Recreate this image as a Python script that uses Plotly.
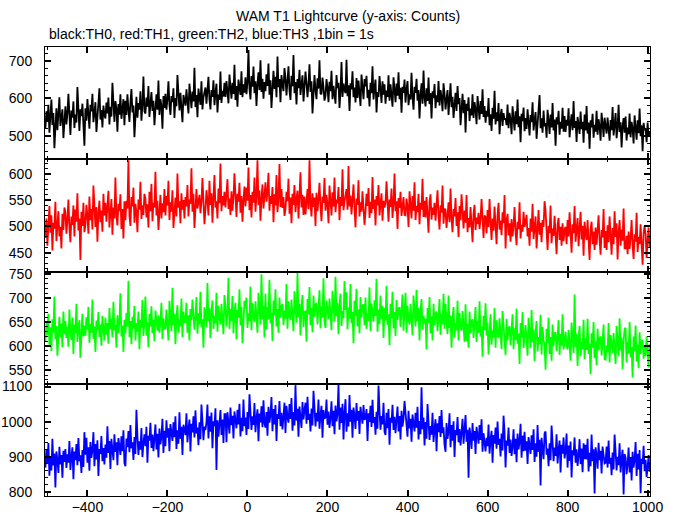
import plotly.graph_objects as go
from plotly.subplots import make_subplots

# time bins: start and bin step (s)
t_start = -505
t_step = 2.5

th0 = [521, 566, 538, 583, 509, 552, 597, 530, 561, 468, 545, 574, 516, 559, 603, 527, 548, 571, 495, 556,
       579, 531, 560, 612, 540, 503, 568, 549, 592, 522, 557, 536, 630, 545, 514, 571, 553, 586, 529, 475,
       574, 541, 598, 555, 520, 583, 566, 612, 537, 561, 590, 511, 548, 575, 627, 544, 569, 523, 581, 556,
       547, 589, 560, 602, 531, 578, 552, 641, 569, 538, 593, 574, 512, 585, 557, 611, 546, 572, 598, 529,
       594, 556, 611, 572, 538, 589, 625, 563, 581, 497, 576, 604, 549, 588, 570, 619, 541, 583, 658, 566,
       560, 602, 578, 633, 551, 589, 617, 567, 594, 529, 583, 611, 570, 647, 556, 598, 580, 520, 606, 575,
       612, 570, 598, 645, 583, 556, 606, 590, 627, 548, 601, 579, 662, 593, 568, 615, 586, 537, 609, 597,
       581, 624, 597, 560, 639, 605, 574, 618, 592, 681, 577, 609, 550, 626, 599, 583, 645, 571, 603, 620,
       629, 586, 613, 657, 597, 571, 622, 604, 648, 582, 615, 639, 563, 610, 596, 671, 588, 620, 605, 641,
       604, 646, 618, 587, 663, 627, 599, 641, 612, 689, 596, 633, 578, 650, 621, 609, 672, 603, 637, 615,
       656, 611, 642, 728, 625, 597, 659, 631, 684, 614, 645, 580, 638, 669, 622, 701, 617, 652, 599, 643,
       619, 664, 633, 692, 610, 648, 575, 641, 673, 625, 657, 603, 711, 630, 651, 590, 662, 636, 619, 680,
       654, 608, 639, 685, 621, 596, 660, 632, 715, 614, 643, 584, 651, 627, 676, 609, 638, 661, 592, 647,
       671, 640, 603, 638, 690, 617, 645, 560, 632, 662, 621, 598, 653, 626, 701, 613, 611, 655, 629, 594,
       607, 651, 628, 590, 644, 619, 673, 598, 633, 612, 586, 662, 627, 641, 575, 618, 696, 604, 639, 622,
       614, 702, 606, 635, 567, 640, 624, 672, 603, 629, 589, 654, 601, 647, 622, 580, 663, 629, 598, 651,
       632, 660, 601, 623, 579, 641, 614, 685, 597, 628, 650, 563, 617, 604, 659, 626, 588, 645, 610, 637,
       586, 621, 604, 661, 594, 637, 614, 578, 656, 623, 590, 639, 607, 669, 598, 628, 562, 631, 615, 650,
       589, 624, 646, 582, 611, 597, 668, 603, 570, 631, 615, 652, 594, 622, 547, 609, 640, 586, 674, 601,
       579, 627, 593, 655, 585, 614, 547, 619, 601, 638, 574, 608, 590, 646, 581, 622, 604, 566, 640, 612,
       571, 598, 622, 556, 589, 640, 577, 604, 548, 593, 615, 567, 633, 585, 601, 529, 579, 612, 561, 596,
       510, 586, 567, 603, 540, 573, 555, 611, 548, 590, 571, 532, 606, 577, 544, 593, 559, 624, 551, 580,
       536, 567, 552, 601, 529, 558, 514, 575, 546, 620, 531, 563, 540, 588, 505, 553, 572, 527, 561, 544,
       547, 529, 584, 521, 562, 544, 505, 579, 550, 515, 566, 532, 597, 524, 553, 484, 559, 540, 576, 513,
       548, 519, 571, 530, 502, 556, 537, 590, 515, 541, 564, 493, 534, 552, 609, 521, 547, 509, 568, 526,
       535, 496, 570, 541, 506, 557, 523, 588, 515, 544, 475, 550, 531, 567, 504, 538, 520, 575, 512, 553,
       511, 543, 528, 574, 497, 534, 558, 516, 593, 522, 540, 485, 551, 529, 506, 565, 519, 538, 483, 557,
       515, 580, 507, 536, 467, 542, 523, 559, 496, 530, 512, 567, 504, 545, 527, 488, 562, 533, 498, 549,
       532, 507, 549, 521, 488, 543, 516, 577, 502, 529, 561, 495, 524, 583, 511, 537, 470, 526, 548, 509,
       552, 489, 523, 505, 560, 497, 538, 520, 481, 555, 526, 491, 542, 508, 573, 500, 529, 460, 535, 516,
       521, 484, 536, 498, 514]

th1 = [478, 515, 463, 502, 539, 488, 521, 454, 507, 496, 547, 472, 510, 529, 481, 499, 458, 524, 493, 536,
       527, 486, 512, 551, 497, 470, 519, 503, 540, 481, 532, 509, 563, 492, 515, 436, 528, 501, 545, 489,
       503, 541, 520, 486, 557, 512, 533, 494, 578, 516, 499, 537, 471, 525, 549, 508, 530, 490, 562, 521,
       545, 509, 531, 568, 498, 527, 552, 484, 536, 515, 593, 520, 502, 543, 529, 561, 495, 533, 477, 548,
       512, 549, 534, 626, 520, 501, 556, 538, 574, 507, 543, 527, 489, 551, 532, 585, 514, 540, 522, 562,
       553, 517, 542, 498, 566, 529, 581, 510, 545, 536, 604, 521, 549, 493, 538, 560, 515, 544, 527, 571,
       521, 558, 540, 587, 512, 546, 528, 569, 497, 541, 555, 519, 601, 536, 548, 506, 563, 532, 550, 515,
       556, 538, 579, 519, 551, 543, 611, 528, 562, 497, 545, 571, 534, 553, 560, 525, 547, 592, 530, 504,
       532, 569, 550, 521, 587, 541, 563, 507, 555, 598, 536, 548, 515, 572, 544, 620, 529, 558, 540, 566,
       536, 564, 590, 533, 553, 522, 567, 530, 555, 601, 541, 518, 562, 547, 583, 526, 558, 509, 551, 576,
       538, 574, 549, 612, 531, 560, 517, 566, 545, 593, 528, 557, 626, 541, 569, 511, 553, 580, 534, 561,
       584, 547, 565, 602, 530, 558, 543, 575, 508, 561, 540, 598, 527, 553, 619, 537, 571, 535, 556, 520,
       533, 566, 548, 591, 524, 555, 506, 562, 541, 579, 527, 552, 568, 515, 547, 603, 536, 560, 522, 557,
       523, 549, 571, 533, 626, 542, 519, 563, 537, 555, 501, 564, 529, 551, 583, 538, 510, 557, 545, 592,
       530, 560, 542, 506, 578, 549, 521, 565, 538, 593, 527, 551, 544, 575, 512, 556, 539, 609, 531, 548,
       557, 571, 532, 615, 538, 559, 523, 547, 580, 535, 498, 553, 541, 588, 519, 546, 528, 567, 542, 503,
       528, 562, 539, 573, 516, 547, 525, 594, 533, 551, 502, 558, 540, 579, 521, 546, 563, 511, 549, 536,
       544, 586, 531, 509, 551, 537, 572, 516, 543, 601, 529, 548, 495, 554, 535, 566, 520, 547, 556, 522,
       521, 553, 538, 499, 567, 542, 515, 558, 530, 584, 512, 539, 527, 562, 504, 545, 532, 591, 518, 549,
       517, 556, 531, 488, 547, 561, 513, 536, 522, 545, 511, 533, 569, 520, 494, 540, 526, 578, 505, 534,
       531, 497, 520, 546, 508, 572, 515, 489, 533, 519, 554, 501, 527, 480, 539, 512, 561, 523, 496, 530,
       507, 560, 489, 516, 498, 537, 511, 470, 524, 541, 493, 517, 505, 526, 495, 514, 552, 503, 478, 521,
       518, 487, 531, 499, 552, 509, 474, 515, 492, 538, 503, 466, 521, 545, 494, 511, 483, 527, 506, 560,
       458, 511, 524, 483, 506, 471, 514, 481, 502, 537, 489, 464, 509, 495, 546, 477, 503, 490, 528, 499,
       508, 522, 481, 497, 463, 515, 490, 543, 476, 502, 519, 458, 495, 531, 484, 507, 470, 512, 499, 548,
       529, 481, 455, 501, 487, 540, 468, 496, 482, 520, 491, 447, 503, 516, 474, 499, 463, 506, 472, 494,
       499, 466, 512, 481, 527, 493, 450, 504, 487, 539, 471, 495, 516, 462, 490, 528, 475, 501, 444, 509,
       488, 474, 512, 483, 436, 495, 509, 466, 490, 455, 498, 465, 486, 521, 473, 446, 493, 479, 533, 459,
       491, 455, 502, 470, 519, 483, 446, 497, 466, 529, 480, 506, 437, 488, 512, 463, 494, 473, 534, 458,
       458, 482, 447, 490, 457, 478, 512, 465, 438, 485, 471, 526, 451, 480, 466, 504, 475, 427, 487, 501,
       485, 440, 473, 498, 460]

th2 = [611, 648, 624, 667, 603, 639, 590, 656, 628, 703, 615, 642, 580, 634, 661, 618, 647, 598, 672, 625,
       652, 617, 641, 599, 676, 630, 613, 659, 584, 645, 627, 688, 609, 638, 654, 576, 632, 667, 620, 643,
       622, 660, 635, 682, 607, 646, 628, 697, 615, 641, 588, 653, 634, 671, 619, 645, 601, 663, 637, 612,
       659, 624, 648, 605, 679, 636, 657, 618, 692, 633, 645, 597, 664, 627, 651, 710, 620, 643, 588, 655,
       627, 669, 641, 736, 619, 652, 604, 661, 637, 684, 612, 648, 630, 672, 594, 655, 639, 696, 621, 650,
       703, 622, 649, 598, 667, 641, 683, 627, 655, 611, 674, 645, 632, 664, 628, 651, 690, 615, 658, 636,
       637, 676, 649, 612, 694, 658, 631, 721, 643, 667, 604, 660, 685, 628, 655, 641, 699, 619, 672, 650,
       650, 690, 628, 664, 612, 677, 654, 697, 673, 634, 661, 702, 626, 668, 645, 713, 639, 656, 597, 681,
       667, 640, 731, 652, 679, 617, 672, 695, 636, 663, 648, 711, 630, 684, 660, 645, 688, 659, 625, 706,
       683, 641, 670, 742, 636, 677, 653, 704, 627, 668, 690, 614, 675, 659, 718, 643, 681, 606, 666, 694,
       679, 701, 638, 668, 652, 724, 633, 690, 661, 650, 693, 662, 628, 711, 673, 645, 749, 656, 684, 618,
       709, 635, 681, 656, 738, 647, 670, 611, 695, 664, 718, 641, 677, 628, 701, 659, 683, 688, 644, 674,
       657, 729, 636, 693, 664, 654, 697, 665, 631, 714, 676, 649, 752, 660, 688, 622, 681, 706, 640, 671,
       672, 609, 698, 666, 723, 644, 679, 629, 705, 661, 686, 690, 645, 677, 716, 637, 683, 659, 741, 650,
       638, 695, 665, 656, 699, 667, 633, 715, 678, 651, 744, 662, 690, 625, 683, 709, 642, 673, 658, 735,
       675, 712, 635, 680, 657, 729, 648, 671, 606, 694, 663, 719, 641, 676, 627, 702, 659, 684, 687, 644,
       701, 636, 668, 652, 722, 631, 689, 660, 651, 695, 663, 740, 630, 676, 646, 705, 657, 684, 617, 679,
       653, 725, 644, 666, 602, 688, 658, 713, 637, 671, 621, 696, 654, 678, 681, 640, 670, 707, 632, 676,
       711, 628, 684, 656, 645, 688, 657, 623, 705, 668, 641, 717, 652, 679, 612, 673, 698, 634, 663, 647,
       657, 593, 679, 648, 702, 627, 662, 612, 688, 643, 668, 672, 631, 661, 698, 624, 667, 645, 709, 636,
       688, 652, 625, 705, 638, 664, 597, 656, 681, 618, 648, 633, 694, 612, 669, 641, 632, 673, 643, 609,
       687, 611, 646, 597, 672, 627, 653, 656, 617, 645, 681, 609, 652, 628, 693, 620, 641, 578, 663, 633,
       689, 622, 649, 583, 641, 666, 603, 633, 618, 679, 597, 654, 626, 617, 658, 628, 594, 673, 637, 610,
       582, 657, 612, 638, 641, 602, 630, 666, 594, 637, 613, 678, 605, 626, 563, 648, 618, 671, 596, 631,
       644, 614, 580, 659, 623, 596, 675, 608, 635, 569, 627, 652, 589, 619, 604, 665, 583, 640, 612, 603,
       551, 636, 606, 659, 584, 619, 570, 645, 600, 626, 629, 590, 618, 654, 582, 625, 601, 666, 593, 614,
       630, 602, 593, 634, 604, 570, 649, 613, 586, 707, 598, 625, 559, 617, 642, 579, 609, 594, 655, 573,
       616, 592, 657, 584, 605, 542, 627, 597, 650, 575, 610, 561, 636, 591, 617, 620, 581, 609, 645, 573,
       572, 602, 587, 648, 566, 623, 595, 586, 627, 597, 563, 642, 606, 579, 658, 591, 618, 552, 610, 635,
       638, 566, 609, 585, 650, 577, 598, 535, 620, 590, 643, 568, 603, 554, 629, 584, 610, 613, 574, 602,
       579, 620, 590, 556, 604]

th3 = [869, 922, 880, 939, 846, 899, 861, 951, 875, 909, 812, 915, 892, 854, 928, 878, 905, 840, 917, 885,
       922, 868, 907, 883, 945, 862, 901, 927, 836, 915, 890, 936, 876, 953, 887, 904, 854, 919, 871, 970,
       906, 954, 883, 927, 860, 942, 897, 919, 970, 873, 936, 892, 947, 845, 922, 908, 959, 887, 925, 878,
       935, 897, 987, 911, 945, 865, 951, 928, 890, 964, 914, 941, 876, 953, 921, 905, 958, 916, 975, 882,
       873, 952, 927, 973, 913, 990, 924, 941, 891, 956, 908, 1034, 959, 905, 944, 920, 982, 899, 938, 964,
       930, 985, 883, 960, 946, 997, 925, 963, 916, 944, 992, 921, 965, 898, 980, 935, 957, 1008, 911, 974,
       930, 1004, 954, 981, 916, 993, 961, 945, 998, 956, 1015, 922, 975, 937, 1027, 951, 985, 905, 991, 968,
       962, 1024, 941, 980, 1006, 915, 994, 969, 1015, 955, 1032, 966, 983, 933, 998, 950, 1049, 1001, 947, 986,
       976, 998, 1049, 952, 1015, 971, 1026, 924, 1001, 987, 1038, 862, 1004, 957, 985, 1033, 962, 1006, 939, 1021,
       1021, 941, 1027, 1004, 966, 1040, 990, 1017, 952, 1029, 997, 981, 1034, 992, 1051, 958, 1011, 973, 1063, 987,
       1012, 962, 1027, 979, 1078, 1030, 976, 1015, 991, 1053, 970, 1009, 1035, 944, 1023, 998, 1044, 984, 1061, 995,
       983, 1027, 960, 1042, 997, 1019, 1070, 973, 1036, 992, 1047, 945, 1022, 1008, 1059, 987, 1025, 978, 1006, 1054,
       968, 1045, 1013, 997, 1050, 1008, 1067, 974, 1027, 989, 1104, 1003, 1037, 957, 1043, 1020, 982, 1056, 1006, 1033,
       1054, 994, 1071, 1005, 1022, 972, 1037, 989, 1088, 1040, 986, 1025, 1001, 1063, 980, 1019, 1045, 954, 1033, 1008,
       1012, 1063, 991, 1029, 982, 1010, 1058, 987, 1031, 964, 1046, 1001, 1023, 1106, 977, 1040, 996, 1051, 949, 1026,
       1064, 971, 1024, 986, 1076, 1000, 1034, 954, 1040, 1017, 979, 1053, 1003, 1030, 965, 1042, 1010, 994, 1047, 1005,
       1010, 1036, 945, 1024, 999, 1045, 985, 1062, 996, 1013, 963, 1028, 980, 1103, 1031, 977, 1016, 992, 1054, 971,
       962, 1025, 981, 1036, 934, 1011, 997, 1048, 976, 1014, 967, 995, 1043, 972, 1016, 949, 1031, 986, 1008, 1059,
       1018, 995, 957, 1031, 981, 1008, 943, 1020, 988, 972, 1025, 983, 1042, 949, 1002, 964, 1098, 978, 1012, 932,
       999, 951, 1050, 1002, 948, 987, 963, 1025, 942, 981, 1007, 916, 995, 970, 1016, 956, 1033, 967, 984, 934,
       914, 996, 951, 973, 1024, 927, 990, 946, 1001, 899, 976, 962, 1013, 941, 979, 932, 960, 1008, 937, 981,
       1019, 943, 977, 840, 983, 960, 922, 996, 946, 973, 908, 985, 953, 937, 990, 948, 1007, 914, 967, 929,
       915, 954, 930, 992, 909, 948, 974, 883, 962, 937, 983, 923, 1000, 934, 951, 901, 966, 918, 1017, 969,
       869, 946, 932, 983, 911, 949, 902, 930, 978, 907, 951, 884, 966, 921, 943, 994, 897, 960, 916, 971,
       917, 944, 879, 956, 924, 908, 961, 919, 978, 885, 938, 900, 990, 914, 948, 818, 954, 931, 893, 967,
       972, 906, 923, 873, 938, 890, 989, 941, 887, 926, 902, 964, 881, 920, 946, 855, 934, 909, 955, 895,
       915, 966, 869, 932, 888, 943, 841, 918, 904, 955, 883, 921, 874, 902, 950, 879, 923, 856, 938, 893,
       934, 892, 951, 858, 911, 873, 963, 887, 921, 795, 927, 904, 866, 940, 890, 917, 852, 929, 897, 881,
       883, 929, 869, 946, 880, 897, 847, 912, 864, 963, 915, 861, 900, 876, 938, 855, 894, 920, 792, 908,
       897, 850, 878, 926, 855, 899, 832, 914, 869, 891, 942, 845, 908, 864, 919, 796, 894, 880, 931, 859,
       891, 842, 868, 905, 857]

series = [th0, th1, th2, th3]
colors = ["#000000", "#ff0000", "#00ff00", "#0000ff"]
y_ranges = [[439, 736], [414, 628], [522, 755], [788, 1108]]
y_dticks = [100, 50, 50, 100]
y_minor = [20, 10, 10, 20]

title_text = "WAM T1 Lightcurve (y-axis: Counts)"
subtitle_text = "black:TH0, red:TH1, green:TH2, blue:TH3 ,1bin = 1s"

FONT = "Liberation Sans, Arial, Helvetica, sans-serif"

fig = make_subplots(rows=4, cols=1, shared_xaxes=True, vertical_spacing=0)

for i, ys in enumerate(series):
    xs = [t_start + t_step * k for k in range(len(ys))]
    fig.add_trace(go.Scatter(x=xs, y=ys, mode="lines",
                             line=dict(color=colors[i], width=1.8),
                             showlegend=False, hoverinfo="skip"),
                  row=i + 1, col=1)
    fig.update_yaxes(range=y_ranges[i], dtick=y_dticks[i], tick0=0,
                     ticks="inside", ticklen=6, tickwidth=1.5, tickcolor="black",
                     minor=dict(dtick=y_minor[i], ticks="inside", ticklen=3,
                                tickcolor="black", tickwidth=1),
                     showline=True, linecolor="black", linewidth=1,
                     mirror="allticks", showgrid=False, zeroline=False,
                     automargin=False, ticklabelstandoff=9,
                     tickfont=dict(family=FONT, size=14, color="black"),
                     row=i + 1, col=1)
    fig.update_xaxes(range=[-506, 1006], dtick=200, tick0=0,
                     ticks="inside", ticklen=6, tickwidth=2, tickcolor="black",
                     minor=dict(dtick=100, ticks="inside", ticklen=3,
                                tickcolor="black", tickwidth=1),
                     showline=True, linecolor="black", linewidth=1,
                     mirror="allticks", showgrid=False, zeroline=False,
                     automargin=False, ticklabelstandoff=-2,
                     tickfont=dict(family=FONT, size=14, color="black"),
                     row=i + 1, col=1)

fig.update_layout(
    width=679, height=515,
    margin=dict(l=45, r=29, t=47, b=19),
    paper_bgcolor="white", plot_bgcolor="white",
    font=dict(family=FONT, size=14, color="black"),
    annotations=[
        dict(text=title_text, x=0.5, y=1.070, xref="paper", yref="paper",
             xanchor="center", yanchor="middle", showarrow=False,
             font=dict(family=FONT, size=14, color="black")),
        dict(text=subtitle_text, x=0.003, y=1.028, xref="paper", yref="paper",
             xanchor="left", yanchor="middle", showarrow=False,
             font=dict(family=FONT, size=14, color="black")),
    ],
)

fig.write_html("out.html", config={"displayModeBar": False},
               post_script="document.body.style.margin='0px';document.body.style.overflow='hidden';")
